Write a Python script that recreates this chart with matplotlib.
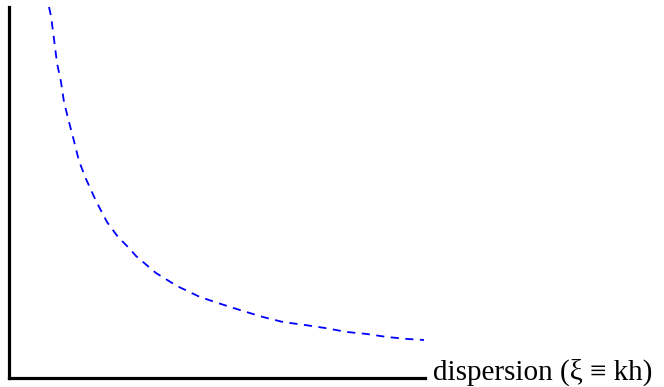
import matplotlib
matplotlib.use("Agg")
import matplotlib.pyplot as plt

# curve (axis units: pixels from the axes origin)
xi = [40, 42, 45, 48, 52, 55, 60, 65, 70, 77, 87, 98, 109, 120, 127, 147, 168, 191, 212,
      234, 254, 274, 296, 316, 338, 358, 378, 399, 415]
val = [371, 362, 339, 315, 296, 276, 256, 237, 217, 199, 177, 156, 141, 130, 122, 105, 92,
       81, 74, 67, 61, 56, 53, 50, 46, 44, 41, 39, 38]
label = "dispersion (ξ ≡ kh)"

fig = plt.figure(figsize=(6.64, 3.87), dpi=100)
ax = fig.add_axes([9 / 664, 9 / 387, 416 / 664, 371 / 387])
ax.plot(xi, val, color="blue", lw=1.3, dashes=(4.5, 3.6))
ax.set_xlim(0, 416)
ax.set_ylim(0, 371)
for s in ["top", "right"]:
    ax.spines[s].set_visible(False)
for s in ["left", "bottom"]:
    ax.spines[s].set_linewidth(2.3)
ax.set_xticks([])
ax.set_yticks([])
fig.text(433 / 664, 1 - 380 / 387, label, family=["Liberation Serif", "DejaVu Serif"],
         fontsize=21, va="baseline", ha="left")
fig.savefig("out.png", dpi=100)
